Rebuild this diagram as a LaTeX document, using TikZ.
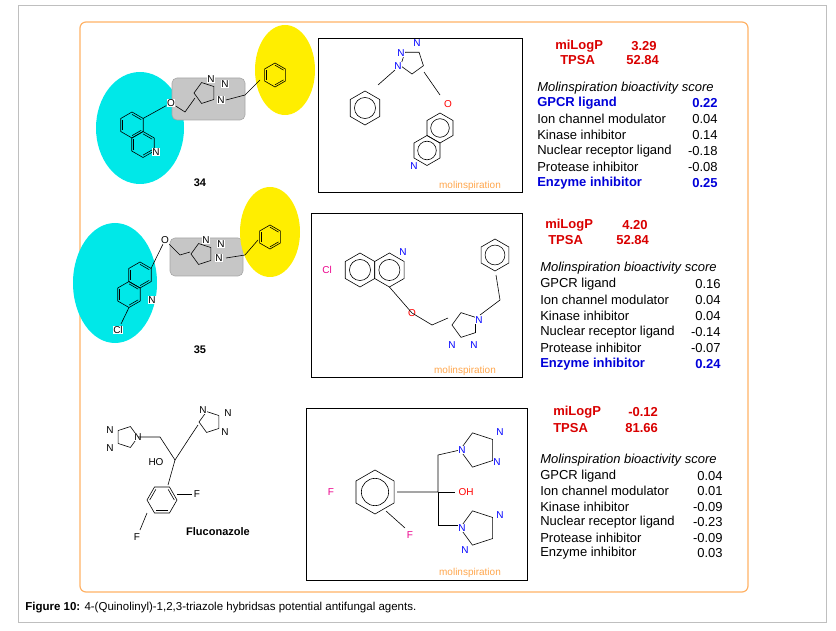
\documentclass[tikz,border=0pt]{standalone}
\usepackage{fontspec}
\setmainfont{Liberation Sans}
\usetikzlibrary{calc}
\definecolor{cyn}{RGB}{0,232,232}
\definecolor{ylw}{RGB}{255,238,0}
\newcommand\hexk[4]{\begin{scope}[shift={(#1,#2)}]
 \draw (#4+30:#3) -- (#4+90:#3) -- (#4+150:#3) -- (#4+210:#3) -- (#4+270:#3) -- (#4+330:#3) -- cycle;
 \foreach \a in {30,150,270}{\draw ($(#4+\a:#3)!0.18!(0,0)$) -- ($(#4+\a+60:#3)!0.18!(0,0)$);}
 \end{scope}}
\newcommand\hexc[4]{\begin{scope}[shift={(#1,#2)}]
 \draw (#4+30:#3) -- (#4+90:#3) -- (#4+150:#3) -- (#4+210:#3) -- (#4+270:#3) -- (#4+330:#3) -- cycle;
 \draw (0,0) circle[radius=0.62*#3];
 \end{scope}}
\newcommand\penta[4]{\begin{scope}[shift={(#1,#2)}]
 \draw (#4:#3) -- (#4+72:#3) -- (#4+144:#3) -- (#4+216:#3) -- (#4+288:#3) -- cycle;
 \end{scope}}
\tikzset{lab/.style={font=\fontsize{13}{15}\selectfont,anchor=west,inner sep=0},
 val/.style={font=\fontsize{13}{15}\selectfont,anchor=east,inner sep=0},
 bl/.style={text=blue!85!black,font=\bfseries\fontsize{13}{15}\selectfont},
 redt/.style={text=red!85!black,font=\bfseries\fontsize{13}{15}\selectfont,inner sep=0},
 atm/.style={font=\fontsize{10}{11}\selectfont,inner sep=0.5,fill=white},
 box/.style={draw=black,line width=0.8pt}}
\begin{document}
\begin{tikzpicture}[x=1pt,y=-1pt,line width=0.6pt]
\useasboundingbox (0,0) rectangle (836,631);
\draw[gray!50] (18,5) rectangle (826,622);
\draw[orange!60,line width=1.2pt,rounded corners=6] (80,22) rectangle (748,592);
% ---- row 1 left
\fill[cyn] (140,128) ellipse[x radius=44,y radius=56];
\fill[gray!45,draw=gray!70,rounded corners=5] (172,78) rectangle (245,120);
\fill[ylw] (285,70) ellipse[x radius=30,y radius=45];
\hexk{132}{125}{13}{0}
\hexk{143}{144.5}{13}{0}
\node[atm] at (156,152) {N};
\node[atm] (o1) at (171,103) {O};
\draw (143,118.5) -- (o1) -- (185,112) -- (195,98);
\penta{205}{93}{11}{180}
\node[atm] at (211,79) {N};\node[atm] at (225,84) {N};\node[atm] at (221,100) {N};
\draw (226,100) -- (245,95) -- (260,80);
\hexk{275}{75}{12}{0}
\node[font=\bfseries\fontsize{11}{13}\selectfont] at (200,183) {34};
% ---- row 1 box
\draw[box] (318,38) rectangle (522,192);
\penta{412}{62}{12}{90}
\node[atm,text=blue] at (401,53) {N};\node[atm,text=blue] at (417,43) {N};\node[atm,text=blue] at (398,66) {N};
\draw (395,70) -- (378,85);
\hexc{365}{108}{17}{0}
\draw (424,72) -- (440,95);
\node[atm,text=red] at (448,104) {O};
\hexc{440}{128}{15}{0}
\hexc{427}{150.5}{15}{0}
\node[atm,text=blue] at (414,166) {N};
\node[font=\fontsize{10}{10}\selectfont,text=orange!70,inner sep=0] at (470,186) {molinspiration};
% right text 1
\node[redt,anchor=west] at (555,46) {miLogP};\node[redt,anchor=west] at (631,46) {3.29};
\node[redt,anchor=west] at (560,60) {TPSA};\node[redt,anchor=west] at (626,60) {52.84};
\node[lab,font=\itshape\fontsize{13}{15}\selectfont] at (537,88) {Molinspiration bioactivity score};
\foreach \t/\v/\y/\c in {GPCR ligand/0.22/103/1,Ion channel modulator/0.04/119/0,Kinase inhibitor/0.14/135/0,Nuclear receptor ligand/-0.18/151/0,Protease inhibitor/-0.08/167/0,Enzyme inhibitor/0.25/183/1}{
 \ifnum\c=1 \node[lab,bl] at (537,\y) {\t};\node[val,bl] at (718,\y) {\v};
 \else \node[lab] at (537,\y) {\t};\node[val] at (718,\y) {\v};\fi}
% ---- row 2 left
\fill[cyn] (115,283) ellipse[x radius=42,y radius=60];
\fill[gray!45,draw=gray!70,rounded corners=5] (170,238) rectangle (243,276);
\fill[ylw] (270,232) ellipse[x radius=30,y radius=45];
\hexk{140}{275}{13}{0}
\hexk{129}{294.5}{13}{0}
\node[atm] at (152,300) {N};
\node[atm] (o2) at (165,240) {O};
\node[atm] at (118,330) {Cl};
\draw (151,268.5) -- (o2) -- (180,255) -- (190,252);
\draw (129,307.5) -- (121,324);
\penta{202}{254}{11}{180}
\node[atm] at (206,240) {N};\node[atm] at (221,244) {N};\node[atm] at (219,258) {N};
\draw (226,258) -- (245,255) -- (258,240);
\hexk{270}{237}{12}{0}
\node[font=\bfseries\fontsize{11}{13}\selectfont] at (200,350) {35};
% ---- row 2 box
\draw[box] (311,213) rectangle (522,377);
\hexc{360}{270}{17}{0}
\hexc{389.4}{270}{17}{0}
\node[atm,text=magenta] at (327,270) {Cl};
\node[atm,text=blue] at (403,252) {N};
\node[atm,text=red] at (412,313) {O};
\draw (389.4,287) -- (412,313) -- (432,325) -- (448,318);
\penta{465}{325}{13}{180}
\node[atm,text=blue] at (452,345) {N};\node[atm,text=blue] at (474,345) {N};\node[atm,text=blue] at (479,320) {N};
\draw (480,315) -- (500,300) -- (496,275);
\hexc{495}{255}{16}{0}
\node[font=\fontsize{10}{10}\selectfont,text=orange!70,inner sep=0] at (465,371) {molinspiration};
% right text 2
\node[redt,anchor=west] at (545,225) {miLogP};\node[redt,anchor=west] at (622,225) {4.20};
\node[redt,anchor=west] at (548,240) {TPSA};\node[redt,anchor=west] at (616,240) {52.84};
\node[lab,font=\itshape\fontsize{13}{15}\selectfont] at (540,268) {Molinspiration bioactivity score};
\foreach \t/\v/\y/\c in {GPCR ligand/0.16/284/0,Ion channel modulator/0.04/300/0,Kinase inhibitor/0.04/316/0,Nuclear receptor ligand/-0.14/332/0,Protease inhibitor/-0.07/348/0,Enzyme inhibitor/0.24/364/1}{
 \ifnum\c=1 \node[lab,bl] at (540,\y) {\t};\node[val,bl] at (721,\y) {\v};
 \else \node[lab] at (540,\y) {\t};\node[val] at (721,\y) {\v};\fi}
% ---- row 3 left fluconazole
\penta{127}{437}{11}{0}
\node[atm] at (110,430) {N};\node[atm] at (110,448) {N};\node[atm] at (138,437) {N};
\draw (138,437) -- (160,437) -- (175,460) -- (190,437) -- (198,425);
\penta{210}{422}{11}{180}
\node[atm] at (203,410) {N};\node[atm] at (228,413) {N};\node[atm] at (225,432) {N};
\node[atm] at (156,462) {HO};
\draw (175,460) -- (168,485);
\hexk{162}{500}{15}{30}
\node[atm] at (197,494) {F};
\draw (177,494) -- (192,494);
\node[atm] at (137,537) {F};
\draw (147,513) -- (140,530);
\node[font=\bfseries\fontsize{11}{13}\selectfont] at (218,532) {Fluconazole};
% ---- row 3 box
\draw[box] (306,408) rectangle (527,580);
\hexc{375}{492}{22}{0}
\node[atm,text=magenta] at (331,492) {F};
\node[atm,text=magenta] at (410,535) {F};
\draw (397,492) -- (438,492) -- (438,455) -- (460,450);
\draw (438,492) -- (455,492);
\node[atm,text=red] at (466,492) {OH};
\draw (438,492) -- (438,525) -- (458,525);
\draw (386,511) -- (405,528);
\penta{478}{450}{18}{180}
\penta{478}{528}{18}{180}
\node[atm,text=blue] at (462,450) {N};\node[atm,text=blue] at (500,432) {N};\node[atm,text=blue] at (497,462) {N};
\node[atm,text=blue] at (462,528) {N};\node[atm,text=blue] at (500,515) {N};\node[atm,text=blue] at (465,550) {N};
\node[font=\fontsize{10}{10}\selectfont,text=orange!70,inner sep=0] at (470,573) {molinspiration};
% right text 3
\node[redt,anchor=west] at (553,412) {miLogP};\node[redt,anchor=west] at (628,412) {-0.12};
\node[redt,anchor=west] at (553,428) {TPSA};\node[redt,anchor=west] at (625,428) {81.66};
\node[lab,font=\itshape\fontsize{13}{15}\selectfont] at (540,460) {Molinspiration bioactivity score};
\foreach \t/\v/\y in {GPCR ligand/0.04/476,Ion channel modulator/0.01/491,Kinase inhibitor/-0.09/507,Nuclear receptor ligand/-0.23/522,Protease inhibitor/-0.09/538,Enzyme inhibitor/0.03/553}{
 \node[lab] at (540,\y) {\t};\node[val] at (723,\y) {\v};}
% caption
\node[anchor=west,inner sep=0,font=\fontsize{11.5}{13}\selectfont] at (25,608) {\textbf{Figure 10:} 4-(Quinolinyl)-1,2,3-triazole hybridsas potential antifungal agents.};
\end{tikzpicture}
\end{document}
